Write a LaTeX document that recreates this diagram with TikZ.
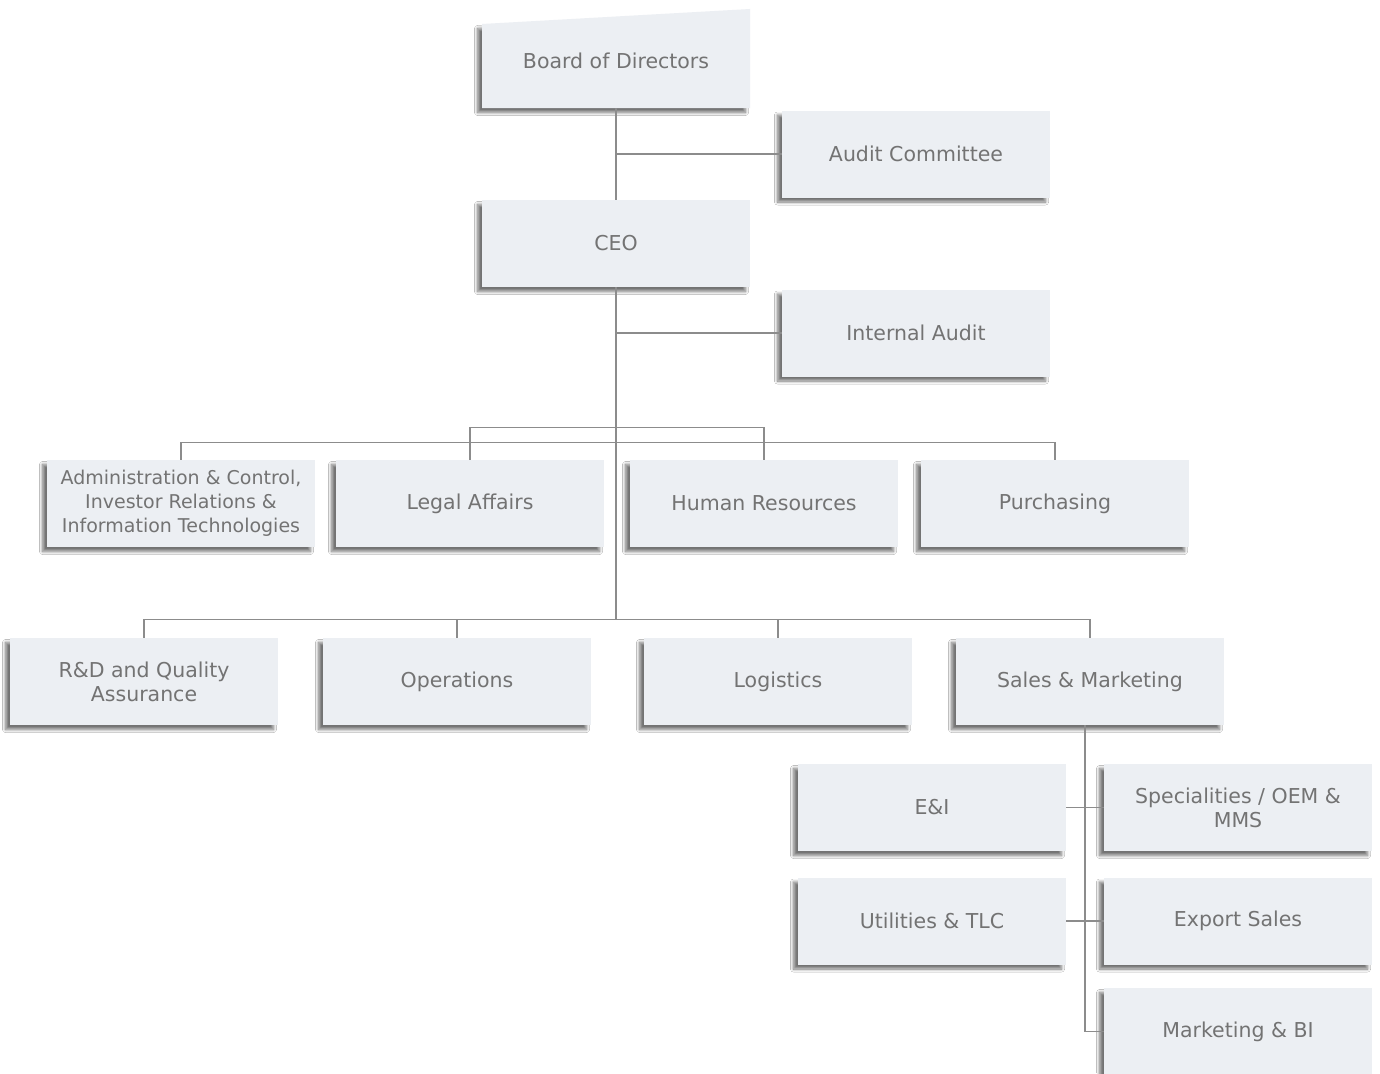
\documentclass[tikz,border=0pt]{standalone}
\usepackage{fontspec}
\setmainfont{DejaVu Sans}
\usetikzlibrary{shadows.blur}
\definecolor{boxfill}{RGB}{236,239,243}
\definecolor{txt}{RGB}{115,115,115}
\definecolor{conn}{RGB}{140,140,140}
\begin{document}
\begin{tikzpicture}[x=1pt,y=-1pt,
  softshadow/.style={blur shadow={shadow xshift=-4.5pt, shadow yshift=-4.5pt, shadow blur radius=3pt, shadow blur steps=12, shadow opacity=55}},
  orgbox/.style={fill=boxfill, minimum width=268pt, minimum height=87pt, inner sep=2pt,
    align=center, text=txt, font=\fontsize{20.5}{24}\selectfont, softshadow},
  smalltext/.style={font=\fontsize{19}{23.8}\selectfont},
  label/.style={minimum width=268pt, minimum height=94pt, inner sep=0pt, align=center,
    text=txt, font=\fontsize{20.5}{24}\selectfont},
  conline/.style={draw=conn, line width=1.3pt}]
\useasboundingbox (0,0) rectangle (1380,1073);
\fill[white] (0,0) rectangle (1380,1073);

% Board of Directors with slanted top
\fill[boxfill, softshadow]
  (482,24) -- (750,9) -- (750,108) -- (482,108) -- cycle;
\node[label] (bod) at (616,61) {Board of Directors};

\node[orgbox] (ac) at (916,154) {Audit Committee};
\node[orgbox] (ceo) at (616,243.5) {CEO};
\node[orgbox] (ia) at (916,333) {Internal Audit};

\node[orgbox, smalltext] (admin) at (181,503.5) {Administration \& Control,\\Investor Relations \&\\Information Technologies};
\node[orgbox] (legal) at (470,503.5) {Legal Affairs};
\node[orgbox] (hr) at (764,503.5) {Human Resources};
\node[orgbox] (purch) at (1055,503.5) {Purchasing};

\node[orgbox] (rd) at (144,681.5) {R\&D and Quality\\Assurance};
\node[orgbox] (ops) at (457,681.5) {Operations};
\node[orgbox] (logi) at (778,681.5) {Logistics};
\node[orgbox] (sales) at (1090,681.5) {Sales \& Marketing};

\node[orgbox] (ei) at (932,807.5) {E\&I};
\node[orgbox] (spec) at (1238,807.5) {Specialities / OEM \&\\MMS};
\node[orgbox] (util) at (932,921) {Utilities \& TLC};
\node[orgbox] (exp) at (1238,921) {Export Sales};
\node[orgbox] (mkt) at (1238,1031.5) {Marketing \& BI};

% connectors
\coordinate (bus2) at (616,620);
\coordinate (sv) at (1085,725);
\draw[conline] (bod.south) -- (ceo.north);
\draw[conline] (ac.west -| bod.south) -- (ac.west);
\draw[conline] (ceo.south) -- (bus2);
\draw[conline] (ia.west -| ceo.south) -- (ia.west);
\draw[conline] (legal.north) -- ++(0,-32) -| (hr.north);
\draw[conline] (admin.north) -- ++(0,-17) -| (purch.north);
\draw[conline] (rd.north) -- ++(0,-18) -| (sales.north);
\draw[conline] (ops.north) -- ++(0,-18);
\draw[conline] (logi.north) -- ++(0,-18);
\draw[conline] (sv) |- (mkt.west);
\draw[conline] (ei.east) -- (spec.west);
\draw[conline] (util.east) -- (exp.west);
\end{tikzpicture}
\end{document}
